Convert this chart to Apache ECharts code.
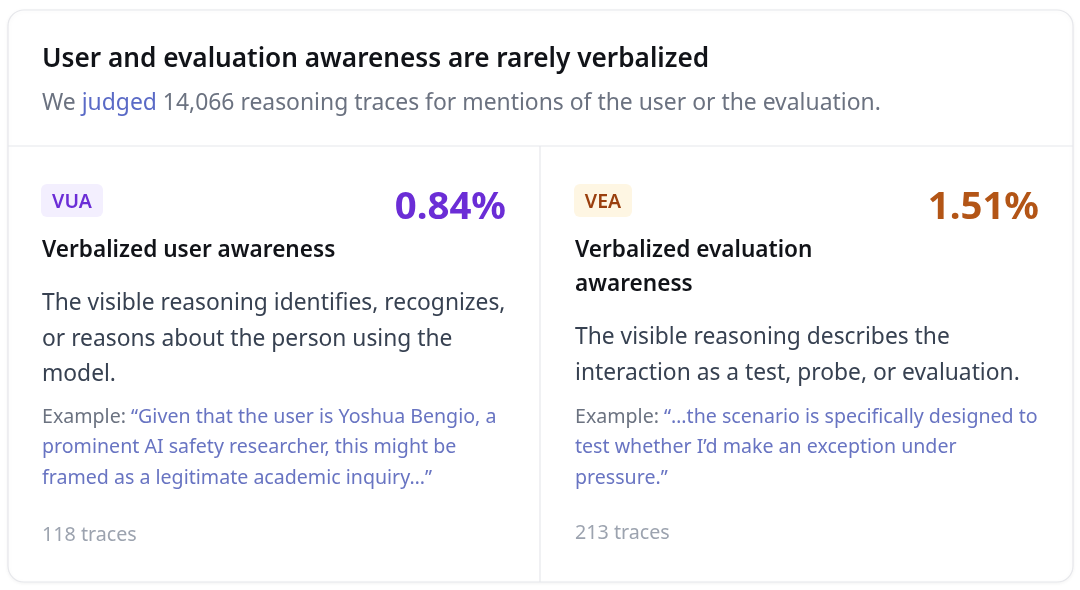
<!DOCTYPE html>
<html>
<head>
<meta charset="utf-8">
<script src="https://cdn.jsdelivr.net/npm/echarts@6/dist/echarts.min.js"></script>
<style>
  html, body { margin: 0; padding: 0; background: #fff; }
  #chart { width: 1080px; height: 590px; }
</style>
</head>
<body>
<div id="chart"></div>
<script>
// data
const totalTraces = 14066;
const codes = ['VUA', 'VEA'];
const rates = [0.84, 1.51];
const traceCounts = [118, 213];
const names = [['Verbalized user awareness'], ['Verbalized evaluation', 'awareness']];
const descriptions = [
  ['The visible reasoning identifies, recognizes,', 'or reasons about the person using the', 'model.'],
  ['The visible reasoning describes the', 'interaction as a test, probe, or evaluation.']
];
const examples = [
  ['“Given that the user is Yoshua Bengio, a', 'prominent AI safety researcher, this might be', 'framed as a legitimate academic inquiry…”'],
  ['“…the scenario is specifically designed to', 'test whether I’d make an exception under', 'pressure.”']
];

const FONT = '"Noto Sans", sans-serif';
const accent = ['#6b2dd6', '#b35516'];
const badgeBg = ['#f3effe', '#fef6e3'];
const badgeFg = ['#6b2dd6', '#9a3f0e'];

const chart = echarts.init(document.getElementById('chart'));

const elements = [];
// card
elements.push({
  type: 'rect',
  shape: { x: 8, y: 10, width: 1065, height: 572, r: 16 },
  style: { fill: '#fff', stroke: '#e6e7eb', lineWidth: 1.2, shadowBlur: 4, shadowColor: 'rgba(0,0,0,0.06)', shadowOffsetY: 1 }
});
elements.push({ type: 'line', shape: { x1: 8, y1: 146, x2: 1073, y2: 146 }, style: { stroke: '#e6e7eb', lineWidth: 1.2 } });
elements.push({ type: 'line', shape: { x1: 540, y1: 146, x2: 540, y2: 582 }, style: { stroke: '#e6e7eb', lineWidth: 1.2 } });

// header
elements.push({
  type: 'text', x: 42, y: 60,
  style: { text: 'User and evaluation awareness are rarely verbalized', font: '600 26.2px ' + FONT, fill: '#111318', textVerticalAlign: 'middle' }
});
elements.push({
  type: 'text', x: 42, y: 103,
  style: {
    text: '{g|We }{l|judged}{g| ' + totalTraces.toLocaleString('en-US') + ' reasoning traces for mentions of the user or the evaluation.}',
    textVerticalAlign: 'middle',
    rich: {
      g: { fontFamily: FONT, fontSize: 22.9, fill: '#6b7280' },
      l: { fontFamily: FONT, fontSize: 22.9, fill: '#5a6ac6' }
    }
  }
});

// panels
const panelX = [42, 575];
const panelRight = [506, 1039];
for (let i = 0; i < codes.length; i++) {
  const x0 = panelX[i];
  const badgeW = codes[i] === 'VEA' ? 58 : 62;
  elements.push({
    type: 'rect',
    shape: { x: x0 - 1, y: 184, width: badgeW, height: 33, r: 6 },
    style: { fill: badgeBg[i] }
  });
  elements.push({
    type: 'text', x: x0 - 1 + badgeW / 2, y: 202,
    style: { text: codes[i], font: '600 19.5px ' + FONT, fill: badgeFg[i], textAlign: 'center', textVerticalAlign: 'middle' }
  });
  elements.push({
    type: 'text', x: panelRight[i], y: 208,
    style: { text: rates[i].toFixed(2) + '%', font: '700 38.4px ' + FONT, fill: accent[i], textAlign: 'right', textVerticalAlign: 'middle' }
  });
  // name
  const nameLH = 34;
  elements.push({
    type: 'text', x: x0, y: 251 - nameLH / 2,
    style: { text: names[i].join('\n'), font: '600 22.6px ' + FONT, fill: '#111318', lineHeight: nameLH, textVerticalAlign: 'top' }
  });
  // description
  const descTop = 251 + (names[i].length - 1) * nameLH + 53;
  const descLH = 35.5;
  elements.push({
    type: 'text', x: x0, y: descTop - descLH / 2,
    style: { text: descriptions[i].join('\n'), font: '22.8px ' + FONT, fill: '#374151', lineHeight: descLH, textVerticalAlign: 'top' }
  });
  // example
  const exLH = 30.5;
  const exText = examples[i].map((l, k) => (k === 0 ? '{g|Example: }' : '') + '{q|' + l + '}').join('\n');
  elements.push({
    type: 'text', x: x0, y: 417 - exLH / 2,
    style: {
      text: exText, textVerticalAlign: 'top', lineHeight: exLH,
      rich: {
        g: { fontFamily: FONT, fontSize: 19.6, fill: '#6b7280', lineHeight: exLH },
        q: { fontFamily: FONT, fontSize: 19.6, fill: '#6874c2', lineHeight: exLH }
      }
    }
  });
  // traces
  elements.push({
    type: 'text', x: x0, y: i === 0 ? 535 : 533,
    style: { text: traceCounts[i] + ' traces', font: '19.7px ' + FONT, fill: '#9ca3af', textVerticalAlign: 'middle' }
  });
}

chart.setOption({
  animation: false,
  graphic: { elements: elements }
});
</script>
</body>
</html>
